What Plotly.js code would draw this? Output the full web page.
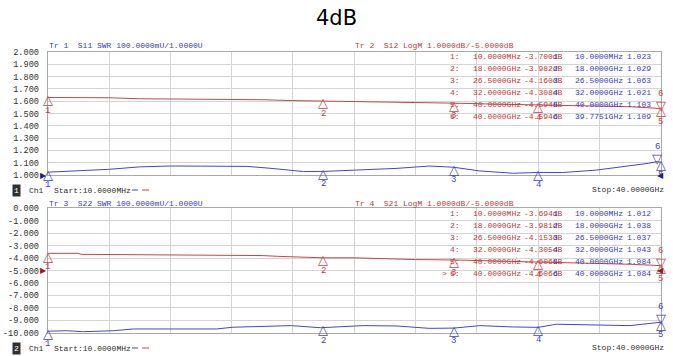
<!DOCTYPE html>
<html><head><meta charset="utf-8">
<script src="https://cdn.plot.ly/plotly-3.0.1.min.js"></script>
<style>html,body{margin:0;padding:0;background:#fff}#chart{width:673px;height:356px}</style>
</head><body><div id="chart"></div>
<script>
// ---------------- data ----------------
const chartTitle = '4dB';
// frequency in GHz
const fS11 = [0.01, 0.8, 2, 4, 6, 8, 10, 12, 13, 14.5, 15.9, 16.7, 18, 19.1, 20.6, 22.8, 24.9, 26.5, 28.2, 30.4, 32, 33.6, 35.8, 38, 39.2, 39.7751, 40];
const s11  = [1.023, 1.027, 1.030, 1.046, 1.066, 1.073, 1.072, 1.067, 1.070, 1.055, 1.040, 1.028, 1.029, 1.035, 1.046, 1.054, 1.073, 1.063, 1.033, 1.014, 1.021, 1.020, 1.040, 1.073, 1.095, 1.109, 1.103];
const fS12 = [0.01, 4, 6, 10, 14, 16, 18, 20, 22, 24, 26.5, 29, 32, 35, 38, 40];
const s12  = [-3.70, -3.72, -3.80, -3.82, -3.88, -3.95, -3.982, -4.00, -4.08, -4.12, -4.160, -4.23, -4.308, -4.38, -4.45, -4.594];
const fS22 = [0.01, 1.25, 2.3, 4.3, 5.6, 8, 11, 12.1, 14.3, 15.2, 15.9, 17.8, 19.1, 20.6, 22.8, 24.9, 26.5, 28.2, 30.4, 32, 33.2, 35.8, 38, 38.8, 40];
const s22  = [1.012, 1.016, 1.008, 1.016, 1.030, 1.030, 1.030, 1.044, 1.049, 1.057, 1.057, 1.040, 1.046, 1.057, 1.054, 1.035, 1.037, 1.057, 1.046, 1.043, 1.068, 1.062, 1.057, 1.068, 1.084];
const fS21 = [0.01, 2, 2.2, 8, 10, 14, 15, 18, 20, 22, 24, 26.5, 29, 32, 35, 38, 40];
const s21  = [-3.62, -3.62, -3.70, -3.72, -3.78, -3.80, -3.86, -3.981, -3.98, -4.06, -4.12, -4.153, -4.22, -4.305, -4.40, -4.50, -4.606];

// markers
const mkIdx  = [1, 2, 3, 4, 5, 6];
const mkDir  = ['up', 'up', 'up', 'up', 'up', 'down'];
const mkF_S11 = [0.01, 18, 26.5, 32, 40, 39.7751];
const mkV_S11 = [1.023, 1.029, 1.063, 1.021, 1.103, 1.109];
const mkF_S12 = [0.01, 18, 26.5, 32, 40, 40];
const mkV_S12 = [-3.700, -3.982, -4.160, -4.308, -4.594, -4.594];
const mkF_S22 = [0.01, 18, 26.5, 32, 40, 40];
const mkV_S22 = [1.012, 1.038, 1.037, 1.043, 1.084, 1.084];
const mkF_S21 = [0.01, 18, 26.5, 32, 40, 40];
const mkV_S21 = [-3.694, -3.981, -4.153, -4.305, -4.606, -4.606];

const swrTicks = [1.0, 1.1, 1.2, 1.3, 1.4, 1.5, 1.6, 1.7, 1.8, 1.9, 2.0];
const dbTicks  = [0, -1, -2, -3, -4, -5, -6, -7, -8, -9, -10];

// ---------------- style ----------------
const RED = '#c04848', BLUE = '#4646c4';
const TXT_RED = '#c03838', TXT_BLUE = '#3c3cc0';
const MONO = 'Liberation Mono, DejaVu Sans Mono, monospace';
const W = 673, H = 356;
const px = v => v / W, py = v => 1 - v / H;

const xdom = [47.7 / W, 660.7 / W];
const y1dom = [1 - 175 / H, 1 - 52 / H];
const y2dom = [1 - 332.7 / H, 1 - 208.3 / H];

function xax(anchor) {
  return {domain: xdom, anchor: anchor, range: [0.01, 40], showticklabels: false, ticks: '',
    tick0: 0.01, dtick: 3.999, showgrid: true, gridcolor: '#d4d4d4', gridwidth: 1,
    zeroline: false, showline: true, mirror: true, linecolor: '#a8a8a8', linewidth: 1, fixedrange: true};
}
function yax(dom, anchor, rng, tv, tt) {
  return {domain: dom, anchor: anchor, range: rng, tickmode: 'array', tickvals: tv, ticktext: tt,
    ticks: '', ticklabelstandoff: 6, tickfont: {family: MONO, size: 8.6, color: '#333333'},
    showgrid: true, gridcolor: '#d4d4d4', gridwidth: 1, zeroline: false,
    showline: true, mirror: true, linecolor: '#a8a8a8', linewidth: 1, fixedrange: true};
}
const fmt = v => (v < 0 ? '-' : '') + Math.abs(v).toFixed(3);

const traces = [
  {x: fS11, y: s11, xaxis: 'x', yaxis: 'y', mode: 'lines', line: {color: BLUE, width: 1}, hoverinfo: 'skip'},
  {x: fS12, y: s12, xaxis: 'x', yaxis: 'y3', mode: 'lines', line: {color: RED, width: 1}, hoverinfo: 'skip'},
  {x: fS22, y: s22, xaxis: 'x2', yaxis: 'y4', mode: 'lines', line: {color: BLUE, width: 1}, hoverinfo: 'skip'},
  {x: fS21, y: s21, xaxis: 'x2', yaxis: 'y2', mode: 'lines', line: {color: RED, width: 1}, hoverinfo: 'skip'}
];

const ann = [];
function txt(x, y, t, color, anchor, size, extra) {
  ann.push(Object.assign({xref: 'paper', yref: 'paper', x: px(x), y: py(y), text: t, showarrow: false,
    xanchor: anchor || 'left', yanchor: 'middle', font: {family: MONO, size: size || 8, color: color}}, extra || {}));
}
function markers(fs, vs, xr, yr, color) {
  fs.forEach((f, i) => {
    const up = mkDir[i] === 'up';
    ann.push({xref: xr, yref: yr, x: f, y: vs[i], text: up ? '△' : '▽', showarrow: false,
      xanchor: 'center', yanchor: up ? 'top' : 'bottom', yshift: up ? 7.5 : -6,
      font: {family: 'DejaVu Sans', size: 13, color: color}});
    ann.push({xref: xr, yref: yr, x: f, y: vs[i], text: String(mkIdx[i]), showarrow: false,
      xanchor: 'center', yanchor: up ? 'top' : 'bottom', yshift: up ? -6 : 8,
      font: {family: MONO, size: 9, color: color}});
  });
}
markers(mkF_S11, mkV_S11, 'x', 'y', BLUE);
markers(mkF_S12, mkV_S12, 'x', 'y3', RED);
markers(mkF_S22, mkV_S22, 'x2', 'y4', BLUE);
markers(mkF_S21, mkV_S21, 'x2', 'y2', RED);

// reference arrows
ann.push({xref: 'x', yref: 'y', x: 0.01, y: 1.0, text: '▶', showarrow: false, xanchor: 'right', yanchor: 'middle', xshift: 1, font: {family: 'DejaVu Sans', size: 8, color: '#202090'}});
ann.push({xref: 'x', yref: 'y', x: 40, y: 1.0, text: '◀', showarrow: false, xanchor: 'center', yanchor: 'middle', font: {family: 'DejaVu Sans', size: 8, color: '#202090'}});
ann.push({xref: 'x2', yref: 'y2', x: 0.01, y: -5, text: '▶', showarrow: false, xanchor: 'right', yanchor: 'middle', xshift: 1, font: {family: 'DejaVu Sans', size: 8, color: '#a01818'}});
ann.push({xref: 'x2', yref: 'y2', x: 40, y: -5, text: '◀', showarrow: false, xanchor: 'center', yanchor: 'middle', font: {family: 'DejaVu Sans', size: 8, color: '#a01818'}});

// headers
txt(47, 46, 'Tr 1  S11 SWR 100.0000mU/1.0000U', TXT_BLUE);
txt(353, 46, 'Tr 2  S12 LogM 1.0000dB/-5.0000dB', TXT_RED);
txt(47, 203, 'Tr 3  S22 SWR 100.0000mU/1.0000U', TXT_BLUE);
txt(353, 203, 'Tr 4  S21 LogM 1.0000dB/-5.0000dB', TXT_RED);

// footers
[[190, '1'], [348, '2']].forEach(([y, n]) => {
  txt(16, y, n, '#ffffff', 'center', 8, {bgcolor: '#303030', borderpad: 1});
  txt(27, y, 'Ch1', '#303030');
  txt(52, y, 'Start:10.0000MHz', '#303030');
  txt(666, y - 1, 'Stop:40.0000GHz', '#303030', 'right');
});

// marker tables
const fLabel = f => f < 1 ? (f * 1000).toFixed(4) + 'MHz' : f.toFixed(4) + 'GHz';
function table(y0, fR, vR, fB, vB, active) {
  mkIdx.forEach((n, i) => {
    const y = y0 + i * 11.9;
    txt(448, y, n + ':', TXT_RED);
    if (active && i === 5) txt(440, y, '>', TXT_RED);
    txt(471, y, fLabel(fR[i]), TXT_RED);
    txt(522, y, vR[i].toFixed(3) + 'dB', TXT_RED);
    txt(551, y, String(n), TXT_BLUE);
    txt(573, y, fLabel(fB[i]), TXT_BLUE);
    txt(625, y, vB[i].toFixed(3), TXT_BLUE);
  });
}
table(56.7, mkF_S12, mkV_S12, mkF_S11, mkV_S11, false);
table(213.5, mkF_S21, mkV_S21, mkF_S22, mkV_S22, true);

const shapes = [];
[190, 348].forEach(y => {
  shapes.push({type: 'line', xref: 'paper', yref: 'paper', x0: px(132), x1: px(138), y0: py(y), y1: py(y), line: {color: BLUE, width: 1}});
  shapes.push({type: 'line', xref: 'paper', yref: 'paper', x0: px(142), x1: px(149), y0: py(y), y1: py(y), line: {color: RED, width: 1}});
});

const layout = {
  width: W, height: H, margin: {l: 0, r: 0, t: 0, b: 0},
  paper_bgcolor: '#ffffff', plot_bgcolor: '#ffffff', showlegend: false,
  title: {text: chartTitle, x: 0.5, xanchor: 'center', y: 1 - 18 / H, yanchor: 'middle',
    font: {family: 'DejaVu Sans', size: 21, color: '#000000'}},
  xaxis: xax('y'), xaxis2: xax('y2'),
  yaxis: yax(y1dom, 'x', [1, 2], swrTicks, swrTicks.map(fmt)),
  yaxis3: {overlaying: 'y', range: [-10, 0], visible: false, fixedrange: true},
  yaxis2: yax(y2dom, 'x2', [-10, 0], dbTicks, dbTicks.map(fmt)),
  yaxis4: {overlaying: 'y2', range: [1, 2], visible: false, fixedrange: true},
  annotations: ann, shapes: shapes
};
Plotly.newPlot('chart', traces, layout, {staticPlot: true, displayModeBar: false});
</script></body></html>
